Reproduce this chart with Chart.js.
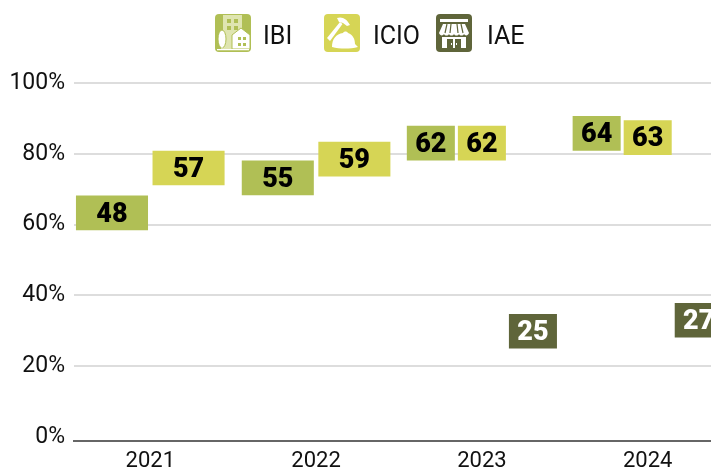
<!DOCTYPE html>
<html>
<head>
<meta charset="utf-8">
<script src="https://cdn.jsdelivr.net/npm/chart.js@4"></script>
<style>
    html, body { margin: 0; padding: 0; background: #fff; overflow: hidden; }
    #wrap { position: relative; width: 711px; height: 469px; overflow: hidden; }
    canvas { position: absolute; left: 0; top: 0; }
    .key { position: absolute; top: 14px; height: 38px; display: flex; align-items: center; font: 25px Roboto, sans-serif; color: #111; }
    .key svg { width: 36px; height: 38px; display: block; }
    .key span { position: absolute; white-space: nowrap; top: 7px; line-height: 30px; }
</style>
</head>
<body>
<div id="wrap">
    <canvas id="chart" width="740" height="469"></canvas>

    <div class="key" style="left:215px">
        <svg viewBox="0 0 36 38">
            <rect width="36" height="38" rx="4" fill="#b0bf55"/>
            <path d="M8 1h19v14l-9 7v13H8z" fill="#dfe5b0"/>
            <path d="M12 5h4v4h-4zM19 5h4v4h-4zM12 12h4v4h-4zM19 12h4v4h-4z" fill="#b0bf55"/>
            <path d="M17 21l9-7 9 7v14H17z" fill="#fff" stroke="#b0bf55"/>
            <path d="M23 23h3v3h-3zM28 23h3v3h-3zM23 29h3v3h-3zM28 29h3v3h-3z" fill="#b0bf55"/>
            <ellipse cx="7" cy="25" rx="4" ry="9" fill="#fff" stroke="#b0bf55"/>
            <path d="M6.500 28h1v7h-1zM2 35h32v1.200H2z" fill="#fff"/>
        </svg>
        <span style="left:48px">IBI</span>
    </div>
    <div class="key" style="left:324px">
        <svg viewBox="0 0 36 38">
            <rect width="36" height="38" rx="4" fill="#d6d555"/>
            <path d="M3 24L16 8l2.500 2L6 27z" fill="#fff"/>
            <path d="M13 4c5-2 10 1 13 7l-3 1-4-3-4-1z" fill="#fff"/>
            <path d="M8 33c0-8 4-13 11-14 1-2 4-2 5 0 5 2 7 6 7 11l3 3c-8 2-18 2-26 0z" fill="#fff"/>
        </svg>
        <span style="left:49px">ICIO</span>
    </div>
    <div class="key" style="left:436px">
        <svg viewBox="0 0 36 38">
            <rect width="36" height="38" rx="4" fill="#5f653a"/>
            <path d="M4 5h28v3H4z" fill="#fff"/>
            <path d="M7 10h22l4 9c-1 3-4 3-5 1-1 2-4 2-5 0-1 2-4 2-5 0-1 2-4 2-5 0-1 2-4 2-5 0-1 2-4 2-5-1z" fill="#fff"/>
            <path d="M11 10l-2 9M15 10l-1 9M21 10l1 9M25 10l2 9" stroke="#5f653a" stroke-width="1.200"/>
            <path d="M6 23h24v11H6z" fill="#fff"/>
            <path d="M11 25h6v9h-6zM19 25h6v9h-6z" fill="#5f653a"/>
            <path d="M15 29h1v2h-1zM20 29h1v2h-1z" fill="#fff"/>
        </svg>
        <span style="left:51px">IAE</span>
    </div>
</div>

<script>
    const years = ['2021', '2022', '2023', '2024'];

    // Printed numbers on the boxes
    const ibiLabels = [48, 55, 62, 64];
    const icioLabels = [57, 59, 62, 63];
    const iaeLabels = [null, null, 25, 27];

    // Where each box sits against the percent axis (centre of the box)
    const ibiLevels = [63.3, 73.2, 83.0, 85.8];
    const icioLevels = [76.0, 78.5, 83.0, 84.6];
    const iaeLevels = [null, null, 29.9, 33.0];

    const yTicks = [0, 20, 40, 60, 80, 100];

    const BOX_SPAN = 9.8;

    function toBoxes(levels) {
        return levels.map((v, i) => ({ x: i, y: v === null ? null : [v - BOX_SPAN / 2, v + BOX_SPAN / 2] }));
    }

    // Printed values in the middle of each box
    const boxLabels = {
        id: 'boxLabels',
        afterDatasetsDraw(chart) {
            const ctx = chart.ctx;
            chart.data.datasets.forEach((ds, d) => {
                chart.getDatasetMeta(d).data.forEach((bar, i) => {
                    if (ds.printed[i] === null) return;
                    ctx.save();
                    ctx.font = '900 27px Roboto, sans-serif';
                    ctx.fillStyle = ds.printedColor;
                    ctx.textAlign = 'center';
                    ctx.textBaseline = 'middle';
                    ctx.fillText(String(ds.printed[i]), bar.x, (bar.y + bar.base) / 2 + 2);
                    ctx.restore();
                });
            });
        },
    };

    const barDefaults = {
        skipNull: true,
        categoryPercentage: 0.9236,
        barPercentage: 0.941,
        borderWidth: 0,
    };

    new Chart(document.getElementById('chart').getContext('2d'), {
        type: 'bar',
        data: {
            datasets: [
                { ...barDefaults, label: 'IBI', data: toBoxes(ibiLevels), printed: ibiLabels, printedColor: '#000', backgroundColor: '#b0bf55' },
                { ...barDefaults, label: 'ICIO', data: toBoxes(icioLevels), printed: icioLabels, printedColor: '#000', backgroundColor: '#d6d555' },
                { ...barDefaults, label: 'IAE', data: toBoxes(iaeLevels), printed: iaeLabels, printedColor: '#fff', backgroundColor: '#5f653a' },
            ],
        },
        plugins: [boxLabels],
        options: {
            responsive: false,
            animation: false,
            layout: { padding: { top: 83, right: 9.4, bottom: 0, left: 0 } },
            plugins: { legend: { display: false }, tooltip: { enabled: false } },
            scales: {
                x: {
                    type: 'linear',
                    offset: false,
                    min: -0.46,
                    max: 3.5,
                    afterFit(scale) { scale.height = 28; },
                    grid: { display: false, drawTicks: false },
                    border: { display: true, color: '#666', width: 2 },
                    ticks: {
                        stepSize: 1,
                        includeBounds: false,
                        autoSkip: false,
                        maxRotation: 0,
                        padding: 7,
                        color: '#111',
                        font: { family: 'Roboto, sans-serif', size: 22 },
                        callback: (v) => years[v],
                    },
                },
                y: {
                    min: -1.1,
                    max: 100,
                    afterFit(scale) { scale.width = 74; },
                    afterBuildTicks(scale) { scale.ticks = yTicks.map((value) => ({ value })); },
                    border: { display: false },
                    grid: {
                        drawTicks: false,
                        lineWidth: 2,
                        color: (c) => (c.tick && c.tick.value === 0 ? 'transparent' : '#ddd'),
                    },
                    ticks: {
                        padding: 9,
                        color: '#111',
                        font: { family: 'Roboto, sans-serif', size: 23 },
                        callback: (v) => v + '%',
                    },
                },
            },
        },
    });
</script>
</body>
</html>
